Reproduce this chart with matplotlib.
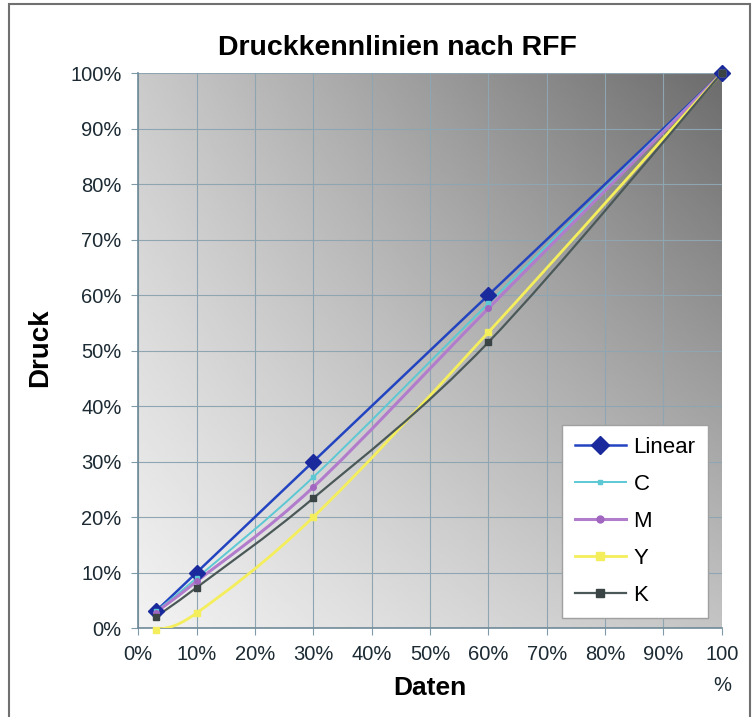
import numpy as np
import matplotlib
matplotlib.use("Agg")
import matplotlib.pyplot as plt
from matplotlib.path import Path
from matplotlib.patches import PathPatch, Rectangle
from matplotlib.lines import Line2D

plt.rcParams['font.family'] = ['Liberation Sans', 'DejaVu Sans']

# data (percent)
daten = [3, 10, 30, 60, 100]
linear = [3, 10, 30, 60, 100]
c_vals = [3.0, 9.0, 27.2, 58.5, 100]
m_vals = [2.8, 8.4, 25.4, 57.6, 100]
y_vals = [-0.3, 2.7, 20.0, 53.3, 100]
k_vals = [2.0, 7.3, 23.4, 51.5, 100]

names = ["Linear", "C", "M", "Y", "K"]
series = [linear, c_vals, m_vals, y_vals, k_vals]
colors = ["#2344c0", "#5cc8d4", "#b27ccc", "#f4ee5c", "#4b5858"]
mcolors = ["#1a2a9c", "#5cc8d4", "#a066c0", "#f4ee5c", "#3a4444"]
markers = ["D", "s", "o", "s", "s"]
msizes = [8, 2.5, 4, 5, 4.5]
lwidths = [1.8, 1.4, 2.2, 2.0, 1.6]

xticks = list(range(0, 101, 10))
xticklabels = ["%d%%" % v for v in xticks[:-1]] + ["100\n%"]
yticks = list(range(0, 101, 10))
yticklabels = ["%d%%" % v for v in yticks]


def smooth_path(xs, ys):
    # Excel-like smoothed line as cubic Bezier segments
    pts = np.column_stack([xs, ys]).astype(float)
    n = len(pts)
    verts = [pts[0]]
    codes = [Path.MOVETO]
    for i in range(n - 1):
        p0 = pts[i - 1] if i > 0 else pts[i]
        p1 = pts[i]
        p2 = pts[i + 1]
        p3 = pts[i + 2] if i + 2 < n else pts[i + 1]
        c1 = p1 + (p2 - p0) / 6.0
        c2 = p2 - (p3 - p1) / 6.0
        verts += [c1, c2, p2]
        codes += [Path.CURVE4] * 3
    return Path(verts, codes)


fig = plt.figure(figsize=(7.55, 7.17), dpi=100)
ax = fig.add_axes([0.183, 0.124, 0.773, 0.774])

# gradient background
gx = np.linspace(0, 1, 200)
gy = np.linspace(0, 1, 200)
GX, GY = np.meshgrid(gx, gy)
bl, tl, br, tr = 242, 202, 196, 108
bg = (bl * (1 - GX) * (1 - GY) + br * GX * (1 - GY)
      + tl * (1 - GX) * GY + tr * GX * GY) / 255.0
ax.imshow(bg, cmap="gray", vmin=0, vmax=1, extent=[0, 100, 0, 100],
          origin="lower", aspect="auto", zorder=0)

ax.set_xlim(0, 100)
ax.set_ylim(0, 100)
ax.set_xticks(xticks)
ax.set_xticklabels(xticklabels, fontsize=14.5, color="#1c2a33")
ax.set_yticks(yticks)
ax.set_yticklabels(yticklabels, fontsize=14.5, color="#1c2a33")
ax.tick_params(direction="out", length=5, color="#7f9aa8", pad=7)
ax.get_xticklabels()[-1].set_linespacing(1.8)
ax.grid(True, color="#8fa6b2", linewidth=0.8, zorder=1)
for s in ["top", "right"]:
    ax.spines[s].set_visible(False)
for s in ["left", "bottom"]:
    ax.spines[s].set_color("#6f8a98")
    ax.spines[s].set_linewidth(1.2)

handles = []
order = [4, 3, 2, 1, 0]
for i in order:
    p = PathPatch(smooth_path(daten, series[i]), fill=False,
                  edgecolor=colors[i], linewidth=lwidths[i], zorder=3 + i)
    ax.add_patch(p)
    ax.plot(daten, series[i], linestyle="none", marker=markers[i],
            markersize=msizes[i], color=mcolors[i], markeredgecolor=mcolors[i],
            zorder=10 + i, clip_on=False)
for i in range(5):
    handles.append(Line2D([], [], color=colors[i], linewidth=lwidths[i],
                          marker=markers[i], markersize=msizes[i] + 1,
                          markerfacecolor=mcolors[i], markeredgecolor=mcolors[i]))

leg = ax.legend(handles, names, loc="lower right", bbox_to_anchor=(0.976, 0.018),
                borderaxespad=0, fontsize=16, frameon=True, fancybox=False,
                framealpha=1, edgecolor="#a0a0a0", handlelength=2.3,
                labelspacing=0.72, borderpad=0.55, handletextpad=0.35)
leg.set_zorder(20)

fig.text(397 / 755, 1 - 48 / 717, "Druckkennlinien nach RFF", fontsize=20.5,
         fontweight="bold", ha="center", va="center")
ax.set_xlabel("Daten", fontsize=19, fontweight="bold")
ax.xaxis.set_label_coords(0.5, -0.087)
ax.set_ylabel("Druck", fontsize=20, fontweight="bold")
ax.yaxis.set_label_coords(-0.146, 0.505)

fig.patches.append(Rectangle((9 / 755, -0.01), 741 / 755, 1 - 4 / 717 + 0.01,
                             transform=fig.transFigure, fill=False,
                             edgecolor="#707070", linewidth=1.5))

fig.savefig("out.png", dpi=100)
